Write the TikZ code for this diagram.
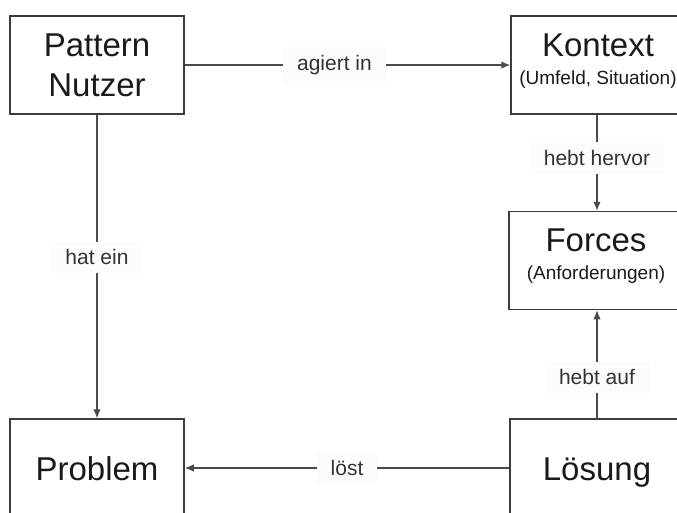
\documentclass[tikz,border=0pt]{standalone}
\usepackage{fontspec}
\setmainfont{Liberation Sans}
\usetikzlibrary{arrows.meta}
\definecolor{boxc}{HTML}{3C3C3C}
\definecolor{linec}{HTML}{4A4A4A}
\definecolor{labc}{HTML}{FCFCFC}
\definecolor{textc}{HTML}{1A1A1A}
\definecolor{labtext}{HTML}{333333}
\begin{document}
\begin{tikzpicture}[x=1pt,y=-1pt,
  box/.style={draw=boxc, line width=1.5pt, fill=white, minimum width=174pt,
    minimum height=98pt, inner sep=0pt, align=center, text=textc},
  twoline/.style={font=\fontsize{33}{40}\selectfont},
  oneline/.style={font=\fontsize{33}{40}\selectfont, text height=24pt, text depth=0pt},
  subline/.style={font=\fontsize{33}{28}\selectfont, text depth=12pt},
  con/.style={draw=linec, line width=1.3pt, -{Latex[length=9pt,width=7.5pt]}},
  lab/.style={fill=labc, inner xsep=14pt, inner ysep=8pt,
    font=\fontsize{21}{24}\selectfont, text=labtext}]
\useasboundingbox (0,0) rectangle (677,512);
\fill[white] (0,0) rectangle (677,512);

\node[box, twoline] (pn) at (97,65) {Pattern\\Nutzer};
\node[box, subline] (ko) at (598,65) {Kontext\\{\fontsize{19}{22}\selectfont (Umfeld, Situation)}};
\node[box, subline] (fo) at (596,260.5) {Forces\\{\fontsize{19}{22}\selectfont (Anforderungen)}};
\node[box, oneline] (pr) at (97,468) {Problem};
\node[box, oneline] (lo) at (597,468) {Lösung};

\draw[con] (pn) -- node[lab, pos=0.46] (l1) {agiert in} (ko);
\draw[con] (pn) -- node[lab, pos=0.47] (l2) {hat ein} (pr);
\draw[con] (ko.south -| 597,0) -- node[lab, pos=0.45] (l3) {hebt hervor} (fo.north -| 597,0);
\draw[con] (lo) -- node[lab, pos=0.38] (l4) {hebt auf} (lo |- fo.south);
\draw[con] (lo) -- node[lab, pos=0.5] (l5) {löst} (pr);
\end{tikzpicture}
\end{document}
